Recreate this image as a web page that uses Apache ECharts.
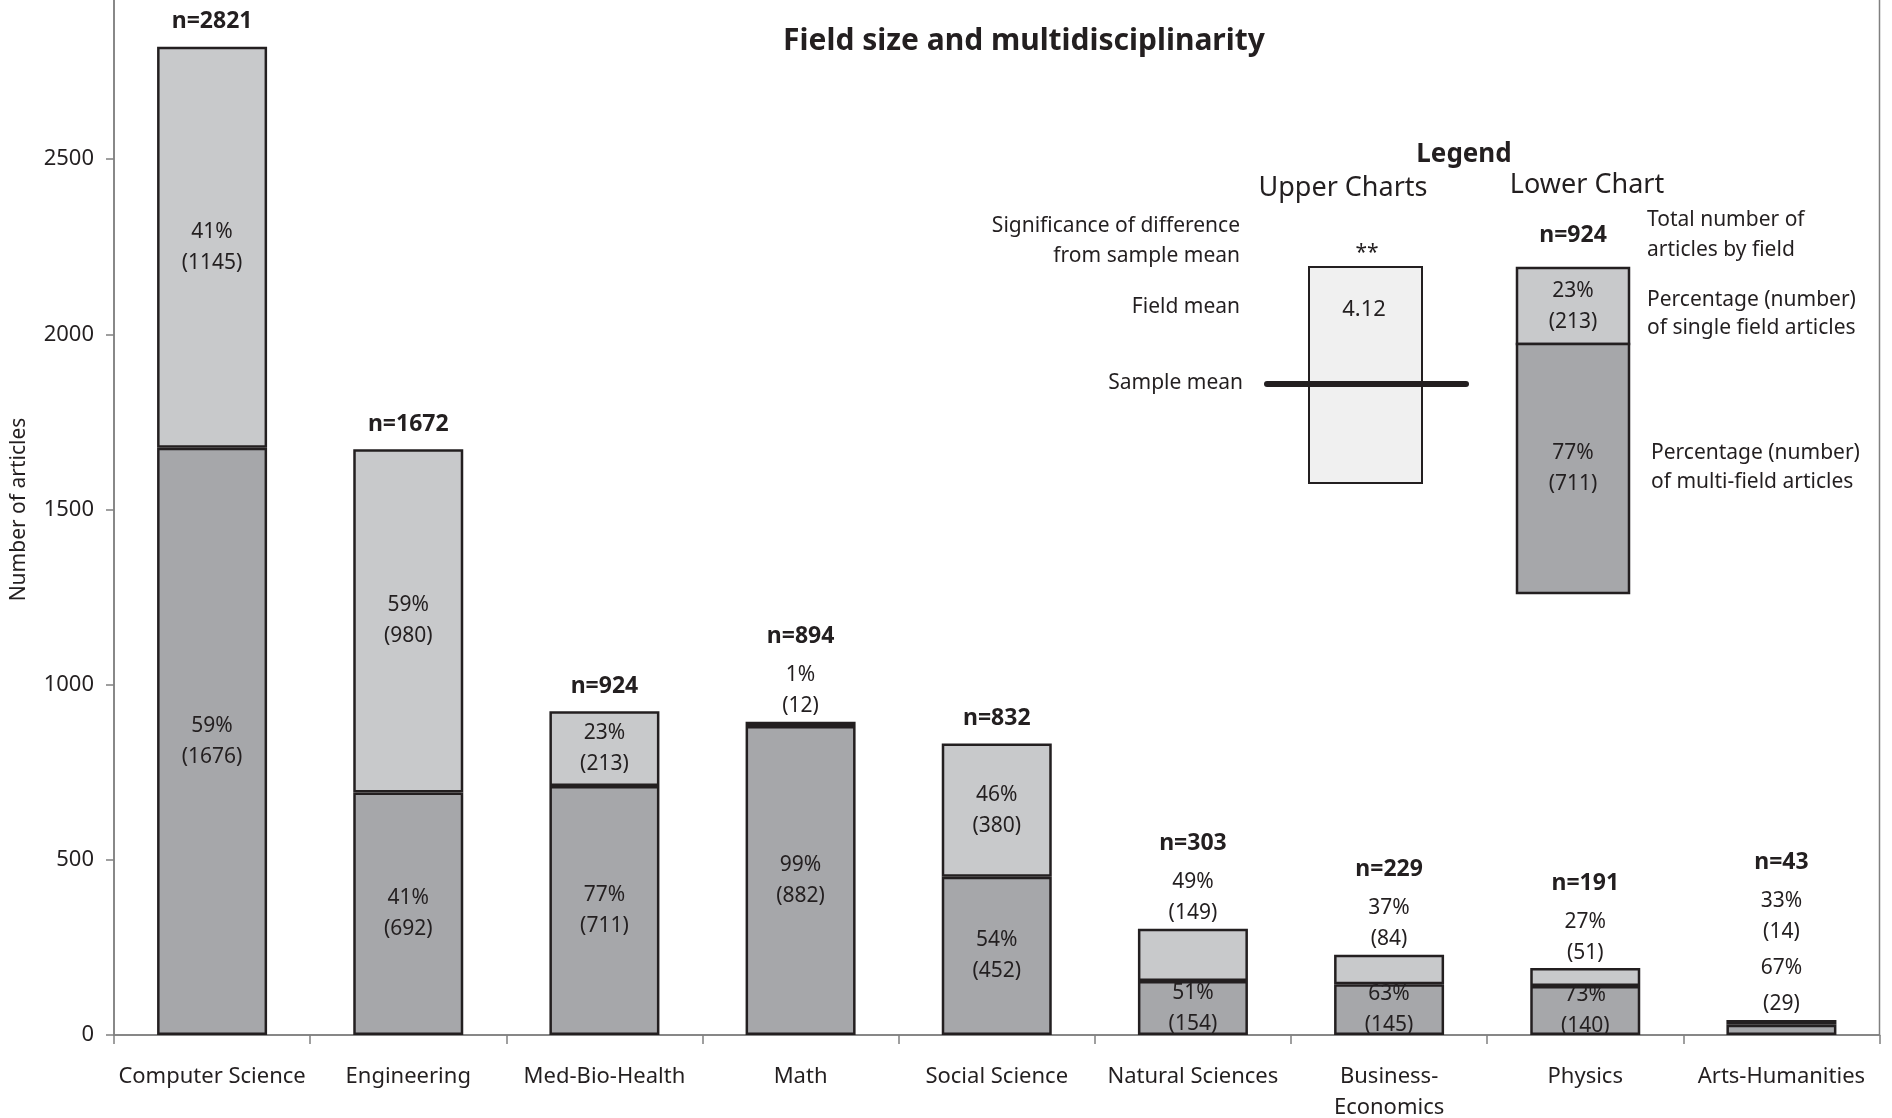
<!DOCTYPE html>
<html><head><meta charset="utf-8">
<script src="https://cdn.jsdelivr.net/npm/echarts@6/dist/echarts.min.js"></script>
<style>html,body{margin:0;padding:0;background:#fff}#c{width:1892px;height:1118px}</style>
</head><body><div id="c"></div>
<script>
// ---- data ----
const categories = ['Computer Science','Engineering','Med-Bio-Health','Math','Social Science','Natural Sciences','Business-\nEconomics','Physics','Arts-Humanities'];
const multiField = [1676, 692, 711, 882, 452, 154, 145, 140, 29];
const singleField = [1145, 980, 213, 12, 380, 149, 84, 51, 14];
const multiPct = [59, 41, 77, 99, 54, 51, 63, 73, 67];
const singlePct = [41, 59, 23, 1, 46, 49, 37, 27, 33];
const yTickValues = [0, 500, 1000, 1500, 2000, 2500];
const legendField = 2; // Med-Bio-Health used as the legend example
const legendMean = '4.12';
const legendSig = '**';

const totals = multiField.map((v, i) => v + singleField[i]);

// ---- styles ----
const FONT = 'Noto Sans';
const TXT = '#231f20';
const AXIS = '#808080';
const LIGHT = '#c8c9cb';
const DARK = '#a6a7aa';
const SINGLE_INSIDE_MIN = 180;
const MULTI_INSIDE_MIN = 60;

const hasAbove = i => singleField[i] < SINGLE_INSIDE_MIN || multiField[i] < MULTI_INSIDE_MIN;

const chart = echarts.init(document.getElementById('c'), null, {renderer: 'canvas'});

function t(text, x, y, size, align, opts) {
  opts = opts || {};
  return {
    type: 'text', z: 10,
    style: {
      text: text, x: x, y: y,
      fontFamily: FONT, fontSize: size, fontWeight: opts.bold ? 'bold' : 'normal',
      fill: TXT, align: align, verticalAlign: 'middle',
      textAlign: align, textVerticalAlign: 'middle'
    }
  };
}

const L = legendField;
const graphics = [
  t('Field size and multidisciplinarity', 1024, 41, 30, 'center', {bold: true}),
  t('Legend', 1464, 155, 26, 'center', {bold: true}),
  t('Upper Charts', 1343, 188, 27, 'center'),
  t('Lower Chart', 1587, 185, 27, 'center'),
  t('Significance of difference', 1240, 226, 21, 'right'),
  t('from sample mean', 1240, 256, 21, 'right'),
  t('Field mean', 1240, 307, 21, 'right'),
  t('Sample mean', 1243, 383, 21, 'right'),
  {type: 'rect', z: 5, shape: {x: 1309, y: 267, width: 113, height: 216},
   style: {fill: '#f0f0f0', stroke: TXT, lineWidth: 2}},
  t(legendSig, 1367, 253, 21, 'center'),
  t(legendMean, 1364, 310, 22, 'center'),
  {type: 'line', z: 8, shape: {x1: 1267, y1: 384, x2: 1466, y2: 384},
   style: {stroke: TXT, lineWidth: 6, lineCap: 'round'}},
  {type: 'rect', z: 5, shape: {x: 1517, y: 268, width: 112, height: 76},
   style: {fill: LIGHT, stroke: TXT, lineWidth: 2.5}},
  {type: 'rect', z: 5, shape: {x: 1517, y: 344, width: 112, height: 249},
   style: {fill: DARK, stroke: TXT, lineWidth: 2.5}},
  t('n=' + totals[L], 1573, 235, 23, 'center', {bold: true}),
  t(singlePct[L] + '%', 1573, 291, 21, 'center'),
  t('(' + singleField[L] + ')', 1573, 322, 21, 'center'),
  t(multiPct[L] + '%', 1573, 453, 21, 'center'),
  t('(' + multiField[L] + ')', 1573, 484, 21, 'center'),
  t('Total number of', 1647, 220, 21, 'left'),
  t('articles by field', 1647, 250, 21, 'left'),
  t('Percentage (number)', 1647, 300, 21, 'left'),
  t('of single field articles', 1647, 328, 21, 'left'),
  t('Percentage (number)', 1651, 453, 21, 'left'),
  t('of multi-field articles', 1651, 482, 21, 'left')
];

const option = {
  animation: false,
  backgroundColor: '#fff',
  textStyle: {fontFamily: FONT, color: TXT},
  grid: {left: 114, right: 12.5, top: -16, bottom: 83, show: true,
         borderColor: AXIS, borderWidth: 1.5, outerBoundsMode: 'none', containLabel: false},
  xAxis: {
    type: 'category', data: categories,
    axisLine: {lineStyle: {color: AXIS, width: 1.5}},
    axisTick: {show: true, length: 9, lineStyle: {color: AXIS, width: 1.5}},
    axisLabel: {fontFamily: FONT, fontSize: 22, color: TXT, margin: 26, lineHeight: 31, interval: 0}
  },
  yAxis: {
    type: 'value', min: 0, max: 3000, interval: 500,
    name: 'Number of articles', nameLocation: 'middle', nameRotate: 90, nameGap: 84,
    nameTextStyle: {fontFamily: FONT, fontSize: 21, color: TXT},
    splitLine: {show: false},
    axisLine: {show: true, lineStyle: {color: AXIS, width: 1.5}},
    axisTick: {show: true, length: 8, lineStyle: {color: AXIS, width: 1.5}, customValues: yTickValues},
    axisLabel: {fontFamily: FONT, fontSize: 22, color: TXT, margin: 20, customValues: yTickValues,
                formatter: v => String(v)}
  },
  series: [
    {
      name: 'Multi-field', type: 'bar', stack: 'a', barWidth: 110,
      data: multiField,
      itemStyle: {color: DARK, borderColor: TXT, borderWidth: 2.5},
      label: {
        show: true, position: 'inside', fontFamily: FONT, fontSize: 21, lineHeight: 31, color: TXT,
        formatter: p => multiField[p.dataIndex] >= MULTI_INSIDE_MIN ? multiPct[p.dataIndex] + '%\n(' + multiField[p.dataIndex] + ')' : ''
      },
      emphasis: {disabled: true}
    },
    {
      name: 'Single field', type: 'bar', stack: 'a', barWidth: 110,
      data: singleField,
      itemStyle: {color: LIGHT, borderColor: TXT, borderWidth: 2.5},
      label: {
        show: true, position: 'inside', fontFamily: FONT, fontSize: 21, lineHeight: 31, color: TXT,
        formatter: p => singleField[p.dataIndex] >= SINGLE_INSIDE_MIN ? singlePct[p.dataIndex] + '%\n(' + singleField[p.dataIndex] + ')' : ''
      },
      emphasis: {disabled: true}
    },
    {
      name: 'Total', type: 'bar', barWidth: 110, barGap: '-100%', z: 1,
      data: totals.map((v, i) => ({value: v, label: {distance: hasAbove(i) ? 0 : 2}})),
      itemStyle: {color: 'rgba(0,0,0,0)', borderWidth: 0},
      label: {
        show: true, position: 'top', color: TXT,
        formatter: p => {
          const i = p.dataIndex;
          let s = '{n|n=' + totals[i] + '}';
          if (singleField[i] < SINGLE_INSIDE_MIN) s += '\n{p|' + singlePct[i] + '%}\n{p|(' + singleField[i] + ')}';
          if (multiField[i] < MULTI_INSIDE_MIN) s += '\n{q|' + multiPct[i] + '%}\n{p|(' + multiField[i] + ')}';
          return s;
        },
        rich: {
          n: {fontFamily: FONT, fontWeight: 'bold', fontSize: 23, lineHeight: 46, color: TXT, align: 'center'},
          p: {fontFamily: FONT, fontSize: 21, lineHeight: 31, color: TXT, align: 'center'},
          q: {fontFamily: FONT, fontSize: 21, lineHeight: 41, color: TXT, align: 'center'}
        }
      },
      emphasis: {disabled: true},
      silent: true
    }
  ],
  graphic: {elements: graphics}
};
chart.setOption(option);
</script></body></html>
